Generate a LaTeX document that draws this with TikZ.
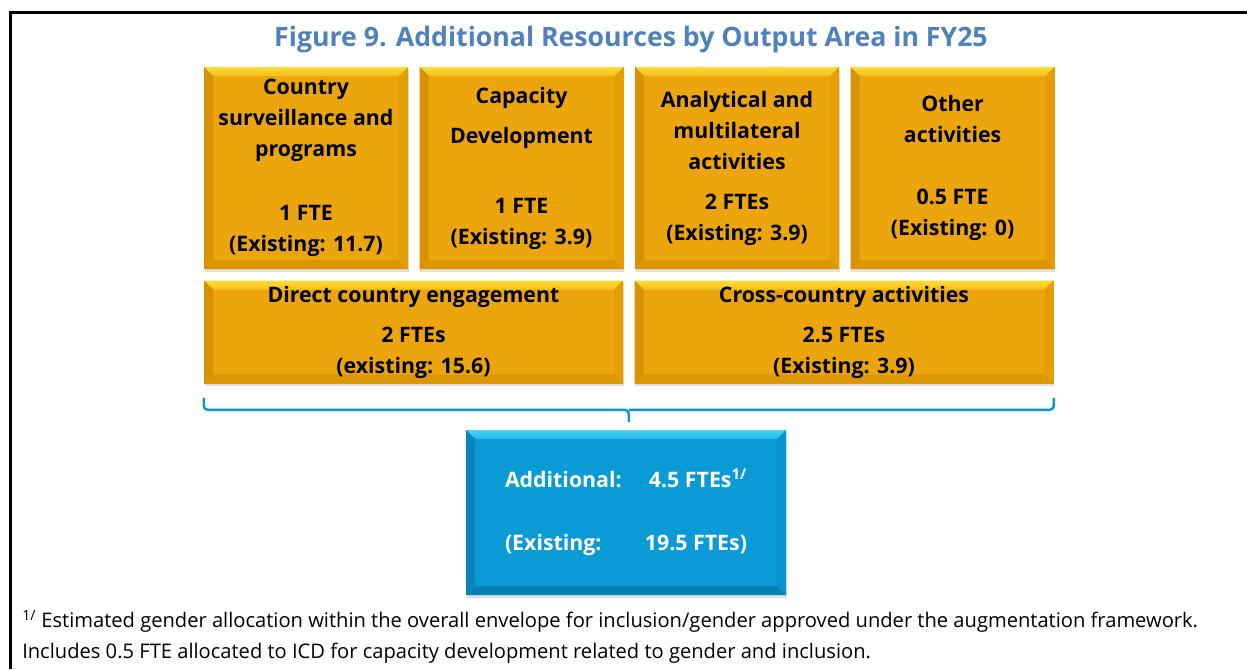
\documentclass[tikz,border=0pt]{standalone}
\usepackage{fontspec}
\setmainfont{Open Sans}
\usetikzlibrary{positioning,calc,shadows}

\definecolor{titleblue}{HTML}{4F81BD}
\definecolor{goldface}{HTML}{ECA50C}
\definecolor{goldtop}{HTML}{FFDD33}
\definecolor{goldleft}{HTML}{D89200}
\definecolor{goldright}{HTML}{E59E00}
\definecolor{goldbottom}{HTML}{DC9600}
\definecolor{blueface}{HTML}{0A9AD6}
\definecolor{bluetop}{HTML}{48D6F8}
\definecolor{blueleft}{HTML}{0685BD}
\definecolor{blueright}{HTML}{0C93CE}
\definecolor{bluebottom}{HTML}{0880B6}
\definecolor{bracecol}{HTML}{0A94D6}

\tikzset{
  bevel/.style n args={5}{path picture={
    \path (path picture bounding box.north west) coordinate (pnw)
          (path picture bounding box.north east) coordinate (pne)
          (path picture bounding box.south west) coordinate (psw)
          (path picture bounding box.south east) coordinate (pse);
    \shade[top color=#1,bottom color=#1!45!#5] (pnw) -- (pne) -- ([shift={(-9,9)}]pne) -- ([shift={(9,9)}]pnw) -- cycle;
    \fill[#2] (pnw) -- ([shift={(9,9)}]pnw) -- ([shift={(9,-9)}]psw) -- (psw) -- cycle;
    \fill[#3] (pne) -- ([shift={(-9,9)}]pne) -- ([shift={(-9,-9)}]pse) -- (pse) -- cycle;
    \fill[#4] (psw) -- ([shift={(9,-9)}]psw) -- ([shift={(-9,-9)}]pse) -- (pse) -- cycle;
  }},
  boxtext/.style={inner sep=0pt,align=center,font=\fontsize{16}{23.25}\selectfont\bfseries,
    drop shadow={shadow xshift=0.6pt,shadow yshift=-2pt,opacity=0.25}},
  goldbox/.style={boxtext,fill=goldface,bevel={goldtop}{goldleft}{goldright}{goldbottom}{goldface}},
  bluebox/.style={boxtext,fill=blueface,text=white,bevel={bluetop}{blueleft}{blueright}{bluebottom}{blueface}},
  topbox/.style={goldbox,minimum width=153pt,minimum height=151.5pt},
  rowbox/.style={goldbox,minimum width=314.25pt,minimum height=77.25pt},
  brace/.style={draw=bracecol,line width=1.8pt,rounded corners=3pt}
}

\begin{document}
\begin{tikzpicture}[x=0.75pt,y=-0.75pt]
\useasboundingbox (0,0) rectangle (1247,669);
% frame
\draw[line width=2.25pt] (10,669) -- (10,12) -- (1247,12);
\node[font=\fontsize{20}{24}\selectfont\bfseries,text=titleblue] (title) at (631,40)
  {Figure 9. Additional Resources by Output Area in FY25};
% output areas
\node[topbox] (csp) at (306,168) {Country\\surveillance and\\programs\\[24.75pt]1 FTE\\(Existing: 11.7)};
\node[topbox,right=8.25pt of csp] (capdev) {Capacity\\[6.75pt]Development\\[29.25pt]1 FTE\\(Existing: 3.9)};
\node[topbox,right=8.25pt of capdev] (anm) {Analytical and\\multilateral\\activities\\[6.75pt]2 FTEs\\(Existing: 3.9)};
\node[topbox,right=8.25pt of anm] (other) {Other\\activities\\[23.25pt]0.5 FTE\\(Existing: 0)};
\node[rowbox,below=8.25pt of csp.south west,anchor=north west] (dce) {Direct country engagement\\[6.75pt]2 FTEs\\(existing: 15.6)};
\node[rowbox,right=8.25pt of dce] (cca) {Cross-country activities\\[6.75pt]2.5 FTEs\\(Existing: 3.9)};
% brace
\coordinate (bl) at ([yshift=-10.5pt]dce.south west);
\coordinate (br) at ([yshift=-10.5pt]cca.south east);
\coordinate (bm) at ($(dce.south west)!0.5!(cca.south east)+(0,26)$);
\coordinate (bt) at ($(bm)+(0,12)$);
\draw[brace] (bl) |- (bm) -- (bt);
\draw[brace] (br) |- (bm);
% total
\node[bluebox,minimum width=240pt,minimum height=123.75pt,align=left] (total) at (626,512.5)
  {\makebox[108pt][l]{Additional:}4.5 FTEs\textsuperscript{1/}\\[24pt]\makebox[105pt][l]{(Existing:}19.5 FTEs)};
% footnote
\node[anchor=west,align=left,inner sep=0pt,font=\fontsize{15.1}{23.25}\selectfont] (note) at (22,637)
  {\textsuperscript{1/} Estimated gender allocation within the overall envelope for inclusion/gender approved under the augmentation framework.\\
   Includes 0.5 FTE allocated to ICD for capacity development related to gender and inclusion.};
\end{tikzpicture}
\end{document}
